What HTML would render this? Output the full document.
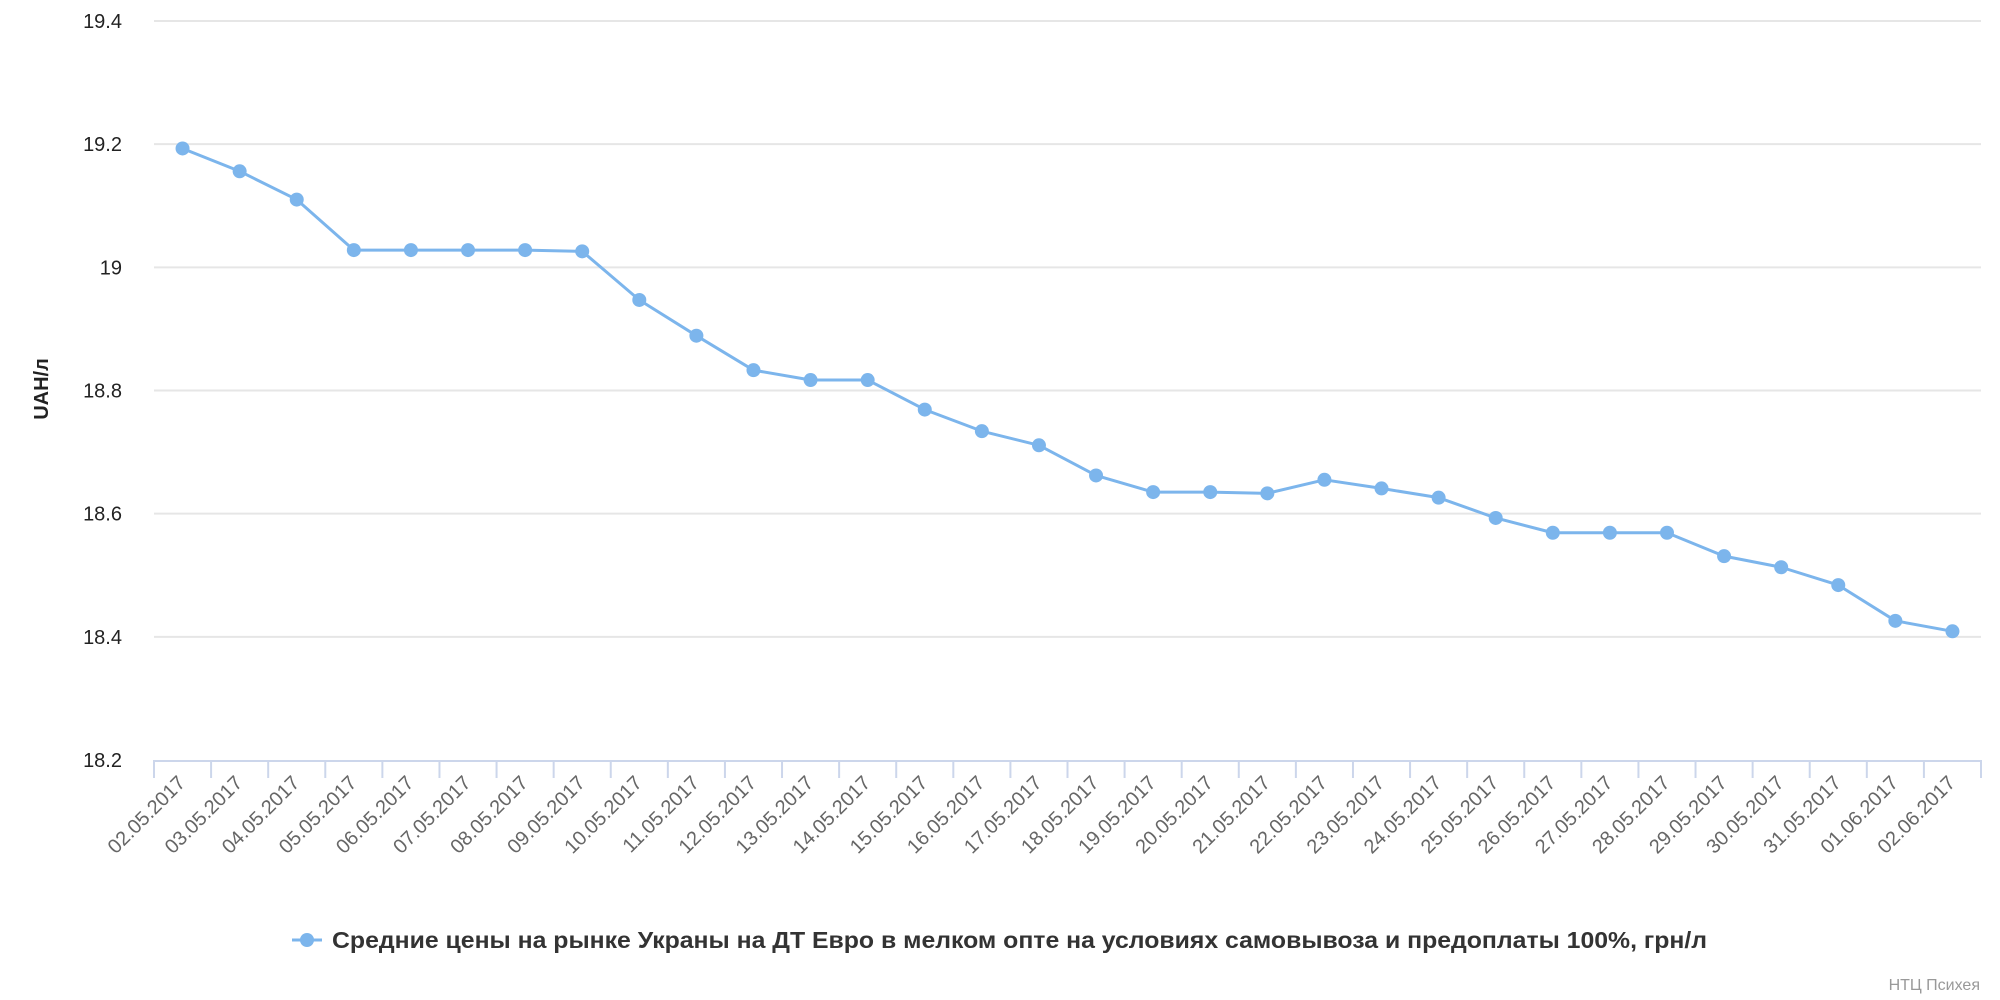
<!DOCTYPE html>
<html><head><meta charset="utf-8"><style>
html,body{margin:0;padding:0;background:#fff;}
svg{display:block;font-family:"Liberation Sans","DejaVu Sans",sans-serif;}
</style></head><body>
<svg id="chart" width="2000" height="1000" viewBox="0 0 2000 1000">
<g id="grid"></g>
<g id="yticks"></g>
<g id="xaxis"></g>
<g id="series"></g>
<text x="48" y="389" transform="rotate(-90 48 389)" text-anchor="middle" font-size="20" font-weight="bold" fill="#222">UAH/л</text>
<g>
<line x1="292" y1="940" x2="322" y2="940" stroke="#7cb5ec" stroke-width="3"/>
<circle cx="307" cy="940" r="7" fill="#7cb5ec"/>
<text x="332" y="948" font-size="23" font-weight="bold" fill="#333" textLength="1375" lengthAdjust="spacingAndGlyphs">Средние цены на рынке Украны на ДТ Евро в мелком опте на условиях самовывоза и предоплаты 100%, грн/л</text>
</g>
<text x="1980" y="990" text-anchor="end" font-size="16" fill="#999">НТЦ Психея</text>
</svg>
<script>
const categories = ["02.05.2017","03.05.2017","04.05.2017","05.05.2017","06.05.2017","07.05.2017","08.05.2017","09.05.2017","10.05.2017","11.05.2017","12.05.2017","13.05.2017","14.05.2017","15.05.2017","16.05.2017","17.05.2017","18.05.2017","19.05.2017","20.05.2017","21.05.2017","22.05.2017","23.05.2017","24.05.2017","25.05.2017","26.05.2017","27.05.2017","28.05.2017","29.05.2017","30.05.2017","31.05.2017","01.06.2017","02.06.2017"];
const values = [19.193,19.156,19.110,19.028,19.028,19.028,19.028,19.026,18.947,18.889,18.833,18.817,18.817,18.769,18.734,18.711,18.662,18.635,18.635,18.633,18.655,18.641,18.626,18.593,18.569,18.569,18.569,18.531,18.513,18.484,18.426,18.409];
const yTicks = [18.2,18.4,18.6,18.8,19,19.2,19.4];
</script>
<script>
(function(){
const NS="http://www.w3.org/2000/svg";
const left=154,right=1981,top=21,bottom=760,yMin=18.2,yMax=19.4;
const n=categories.length;
const band=(right-left)/n;
const x=i=>left+band*(i+0.5);
const y=v=>bottom-(v-yMin)/(yMax-yMin)*(bottom-top);
function mk(tag,attrs,parent){const e=document.createElementNS(NS,tag);for(const k in attrs)e.setAttribute(k,attrs[k]);parent.appendChild(e);return e;}
const grid=document.getElementById('grid'),yt=document.getElementById('yticks'),xa=document.getElementById('xaxis'),se=document.getElementById('series');
yTicks.forEach(t=>{
  if(t!==yMin){const l=mk('line',{x1:left,x2:right,y1:y(t),y2:y(t),stroke:'#e6e6e6','stroke-width':2},grid);
  
  }
  const tx=mk('text',{x:122,y:y(t)+7,'text-anchor':'end','font-size':20,fill:'#222'},yt);
  tx.textContent=String(t);
  
  
});
const ax=mk('line',{x1:left,x2:right,y1:bottom+1,y2:bottom+1,stroke:'#ccd6eb','stroke-width':2},xa);


for(let i=0;i<=n;i++){const tk=mk('line',{x1:left+band*i,x2:left+band*i,y1:bottom,y2:bottom+18,stroke:'#ccd6eb','stroke-width':2},xa);
  
  }
categories.forEach((c,i)=>{
  const lx=x(i)+4,ly=bottom+24;
  const tx=mk('text',{x:lx,y:ly,'text-anchor':'end','font-size':20,fill:'#666',transform:`rotate(-45 ${lx} ${ly})`},xa);
  tx.textContent=c;
  
  
});
const pts=values.map((v,i)=>x(i)+','+y(v)).join(' ');
const pl=mk('polyline',{points:pts,fill:'none',stroke:'#7cb5ec','stroke-width':3,'stroke-linejoin':'round'},se);


values.forEach((v,i)=>{const c=mk('circle',{cx:x(i),cy:y(v),r:7,fill:'#7cb5ec'},se);
  
  });
})();
</script>
</body></html>
